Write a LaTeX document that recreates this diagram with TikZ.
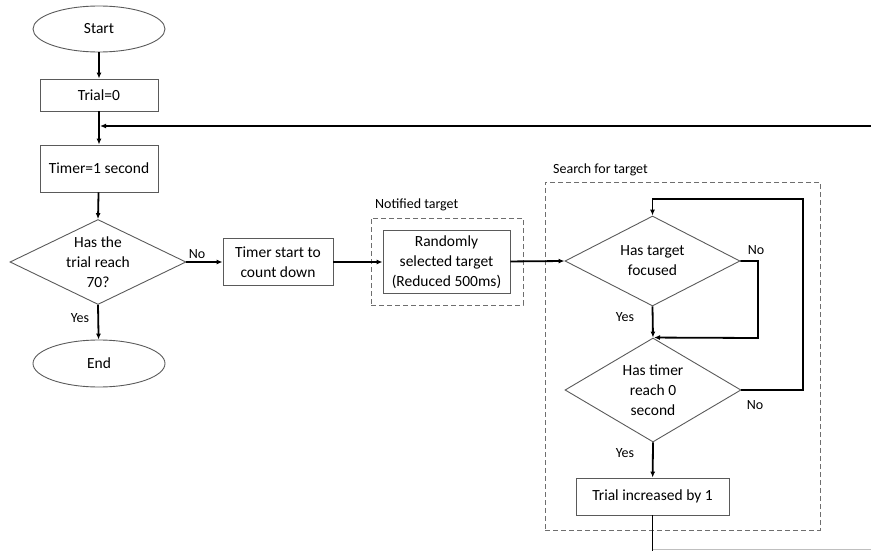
\documentclass[tikz,border=0pt]{standalone}
\usepackage{fontspec}
\setmainfont{Carlito}
\usetikzlibrary{shapes.geometric,arrows.meta}
\definecolor{edgegray}{RGB}{90,90,90}
\definecolor{dashgray}{RGB}{110,110,110}
\tikzset{
  txt/.style={font=\fontsize{15.5}{20}\selectfont},
  box/.style={draw=edgegray,line width=0.9pt,rectangle,align=center,txt,inner sep=0pt},
  term/.style={draw=edgegray,line width=0.9pt,ellipse,align=center,txt,inner sep=0pt},
  dec/.style={draw=edgegray,line width=0.9pt,diamond,inner sep=0pt},
  grp/.style={draw=dashgray,line width=0.9pt,dash pattern=on 5pt off 3pt,rectangle,inner sep=0pt},
  flow/.style={line width=1.8pt,black,-{Latex[length=6pt,width=5pt]}},
  flowline/.style={line width=1.8pt,black},
  lbl/.style={font=\fontsize{14}{16}\selectfont,inner sep=0pt}
}
\begin{document}
\begin{tikzpicture}[x=1pt,y=-1pt]
\useasboundingbox (0,0) rectangle (871,551);
% nodes
\node[term,minimum width=132pt,minimum height=46pt] (start) at (99,29) {Start};
\node[box,minimum width=118pt,minimum height=32pt] (trial) at (99,95) {Trial=0};
\node[box,minimum width=118pt,minimum height=47pt] (timer) at (99,168.5) {Timer=1 second};
\node[dec,minimum width=176pt,minimum height=85pt,aspect=2.07] (d1) at (98,262) {};
\node[txt,align=center] (d1t) at (98,262) {Has the\\trial reach\\70?};
\node[term,minimum width=132pt,minimum height=47pt] (end) at (99,363.5) {End};
\node[box,minimum width=110pt,minimum height=47pt] (tstart) at (278,262) {Timer start to\\count down};
\node[grp,minimum width=152pt,minimum height=87pt] (notif) at (447,261.5) {};
\node[lbl,anchor=south west] (notifl) at (375,211) {Notified target};
\node[box,minimum width=127pt,minimum height=63pt] (rand) at (446.5,262) {Randomly\\selected target\\(Reduced 500ms)};
\node[grp,minimum width=275pt,minimum height=348pt] (search) at (682.5,356) {};
\node[lbl,anchor=south west] (searchl) at (553,176) {Search for target};
\node[dec,minimum width=175pt,minimum height=90pt,aspect=1.94] (d2) at (652.5,261) {};
\node[txt,align=center] (d2t) at (652.5,261) {Has target\\focused};
\node[dec,minimum width=176pt,minimum height=104pt,aspect=1.69] (d3) at (653,390) {};
\node[txt,align=center] (d3t) at (653,390) {Has timer\\reach 0\\second};
\node[box,minimum width=153pt,minimum height=37pt] (inc) at (652.5,496.5) {Trial increased by 1};
% coordinates
\coordinate (merge) at (99,126);
\coordinate (rightin) at (871,126);
\coordinate (loopTR) at (803,199);
\coordinate (loopTL) at (652.5,199);
\coordinate (loopBR) at (803,390);
\coordinate (noR) at (758,261);
\coordinate (noB) at (758,338);
\coordinate (bottom) at (652.5,551);
\coordinate (faintR) at (871,549);
% connectors
\draw[flow] (start) -- (trial);
\draw[flow] (trial) -- (timer);
\draw[flow] (rightin) -- ([xshift=1pt]merge);
\draw[flow] (timer) -- (d1.north);
\draw[flow] (d1.south) -- (end);
\draw[flow] (d1.east) -- (tstart);
\draw[flow] (tstart) -- (rand);
\draw[flow] (rand) -- (d2.west);
\draw[flow] (d2.south) -- (d3.north);
\draw[flow] (d2.east) -- (noR) -- (noB) -- ([xshift=1pt]d3.north);
\draw[flow] (d3.east) -- (loopBR) -- (loopTR) -- (loopTL) -- (d2.north);
\draw[flow] (d3.south) -- (inc);
\draw[flowline] (inc) -- (bottom);
\draw[line width=0.8pt,black!25] (bottom |- faintR) -- (faintR);
% labels
\node[lbl] (no1) at (197,254) {No};
\node[lbl] (yes1) at (80,318) {Yes};
\node[lbl] (no2) at (756,250) {No};
\node[lbl] (yes2) at (625,317) {Yes};
\node[lbl] (no3) at (755,405) {No};
\node[lbl] (yes3) at (625,453) {Yes};
\end{tikzpicture}
\end{document}
